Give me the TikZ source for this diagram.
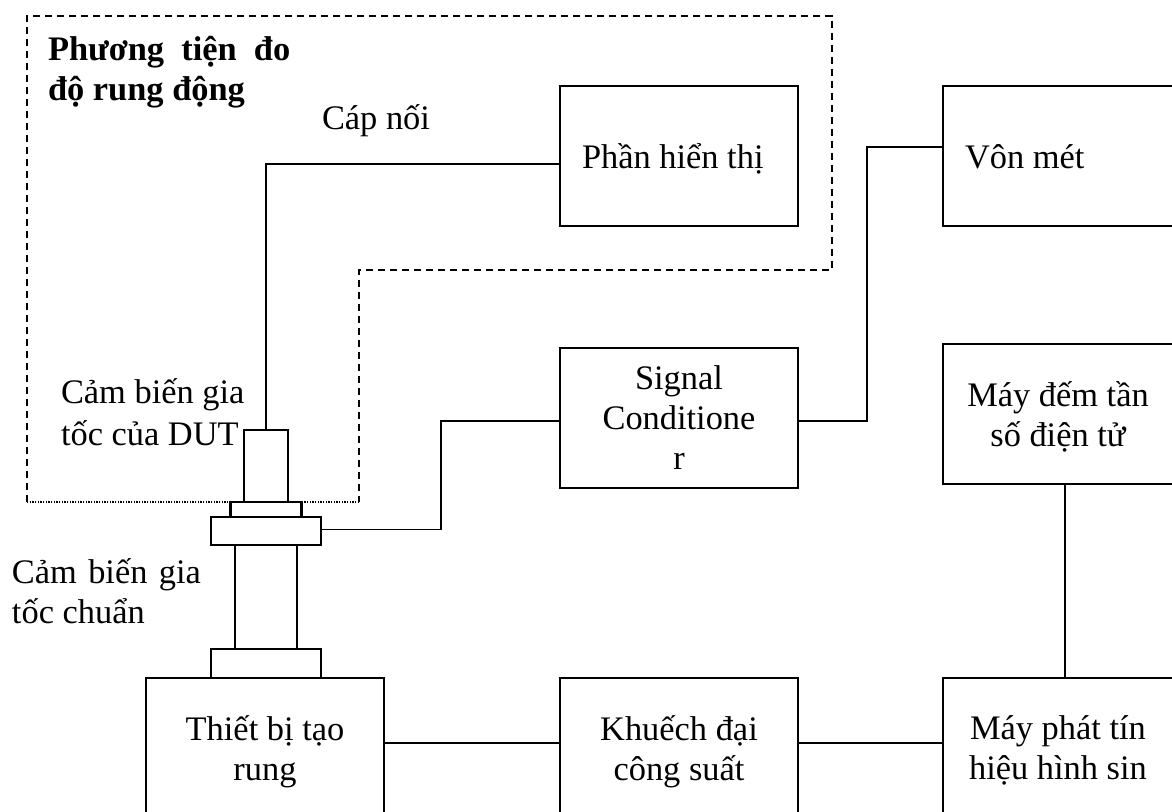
\documentclass[tikz,border=0pt]{standalone}
\usepackage{fontspec}
\setmainfont{Liberation Serif}
\usetikzlibrary{positioning}
\tikzset{
  unitbox/.style={
    draw, line width=1.5pt, minimum width=178.5pt, minimum height=105pt,
    inner sep=0pt, outer sep=0pt, align=center, text depth=0pt, font=\fontsize{25.8pt}{30pt}\selectfont
  },
  rightbox/.style={unitbox, minimum width=172.5pt},
  sidebox/.style={align=flush left, text height=22pt, text depth=2.5pt},
  sensorpart/.style={draw, line width=1.7pt, inner sep=0pt, outer sep=0pt},
  label/.style={inner sep=0pt, outer sep=0pt, align=left, anchor=north west, font=\fontsize{25.8pt}{30pt}\selectfont},
  cable/.style={line width=1.2pt},
  frameline/.style={line width=1pt, dash pattern=on 5.5pt off 3.5pt},
  framedot/.style={line width=1pt, dash pattern=on 1pt off 1pt}
}
\begin{document}
\begin{tikzpicture}[x=0.75pt, y=-0.75pt]
  \clip (0,0) rectangle (1172,812);
  \node[unitbox, sidebox, text width=145.5pt, anchor=north west] (display) at (560,86) {Phần hiển thị};
  \node[rightbox, sidebox, text width=139.5pt, right=108.75pt of display] (voltmeter) {Vôn mét};
  \node[unitbox, below=91.5pt of display] (conditioner) {Signal\\Conditione\\r};
  \node[rightbox, below=88.5pt of voltmeter] (counter) {Máy đếm tần\\số điện tử};
  \node[unitbox, below=142.5pt of conditioner] (amplifier) {Khuếch đại\\công suất};
  \node[unitbox, left=132pt of amplifier] (shaker) {Thiết bị tạo\\rung};
  \node[rightbox, right=108.75pt of amplifier] (generator) {Máy phát tín\\hiệu hình sin};

  \node[sensorpart, minimum width=82.5pt, minimum height=21.75pt, anchor=south] (base) at (266,678) {};
  \node[sensorpart, minimum width=46.5pt, minimum height=78pt, above=0pt of base] (refbody) {};
  \node[sensorpart, minimum width=82.5pt, minimum height=21pt, above=0pt of refbody] (flange) {};
  \node[sensorpart, minimum width=53.25pt, minimum height=11.25pt, above=0pt of flange] (collar) {};
  \node[sensorpart, minimum width=33pt, minimum height=54pt, above=0pt of collar] (dutbody) {};

  \coordinate (framecorner) at (27,502);
  \coordinate (frametop) at (27,16);
  \coordinate (frameright) at (832,270);
  \coordinate (framenotch) at (359,270);
  \coordinate (framestep) at (359,502);
  \draw[frameline] (framecorner) -- (frametop) -| (frameright) -- (framenotch) -- (framestep);
  \draw[framedot] (framecorner) -- (collar.north west);
  \draw[framedot] (collar.north east) -- (framestep);

  \draw[cable] (dutbody.north) |- ([yshift=-6pt]display.west);
  \draw[cable] ([yshift=1pt]flange.east) -- ++(120,0) |- ([yshift=-2.25pt]conditioner.west);
  \draw[cable] ([yshift=-2.25pt]conditioner.east) -- ++(69,0) |- ([yshift=6.75pt]voltmeter.west);
  \draw[cable] ([xshift=5.25pt]counter.south) -- ([xshift=5.25pt]counter.south |- generator.north);
  \draw[cable] ([yshift=3.75pt]shaker.east) -- ([yshift=3.75pt]amplifier.west);
  \draw[cable] ([yshift=3.75pt]amplifier.east) -- ([yshift=3.75pt]generator.west);

  \node[label, font=\fontsize{25.8pt}{30pt}\selectfont\bfseries] (meterlabel) at (48,36) {Phương\ \ tiện\ \ đo\\độ rung động};
  \node[label] (cablelabel) at (322,105) {Cáp nối};
  \node[label] (dutlabel) at (61,379) {Cảm biến gia\\[1pt]tốc của DUT};
  \node[label] (reflabel) at (12,559) {Cảm\hspace{8.5pt}biến\hspace{8.5pt}gia\\tốc chuẩn};
\end{tikzpicture}
\end{document}
